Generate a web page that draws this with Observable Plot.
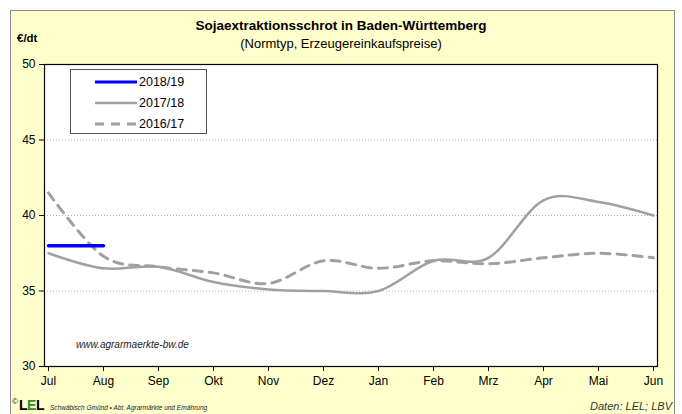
<!DOCTYPE html>
<html>
<head>
<meta charset="utf-8">
<script src="https://cdn.jsdelivr.net/npm/d3@7"></script>
<script src="https://cdn.jsdelivr.net/npm/@observablehq/plot@0.6"></script>
<style>
  html, body { margin: 0; padding: 0; background: #fff; }
  body { width: 682px; height: 414px; position: relative; overflow: hidden; font-family: "Liberation Sans", Arial, sans-serif; }
  #frame { position: absolute; left: 10px; top: 10px; width: 665px; height: 420px; background: #FFFFCC; border: 1px solid #8a8a8a; box-sizing: border-box; }
  #chart { position: absolute; left: 0; top: 0; }
  .t { position: absolute; white-space: nowrap; color: #000; line-height: 1; }
  #legend { position: absolute; left: 70px; top: 69px; width: 137px; height: 65px; box-sizing: border-box; border: 1px solid #555; background: #fff; }
  .li { position: absolute; left: 0; height: 16px; font-size: 12.5px; }
  .li svg { position: absolute; left: 24px; top: 2px; }
  .li span { position: absolute; left: 68px; top: 0; }
</style>
</head>
<body>
<div id="frame"></div>
<div id="chart"></div>
<div class="t" style="left:0;width:682px;top:19px;text-align:center;font-weight:bold;font-size:13.5px;">Sojaextraktionsschrot in Baden-Württemberg</div>
<div class="t" style="left:0;width:682px;top:37px;text-align:center;font-size:13px;">(Normtyp, Erzeugereinkaufspreise)</div>
<div class="t" style="left:17px;top:33px;font-weight:bold;font-size:11.5px;">€/dt</div>
<div id="legend">
  <div class="li" style="top:5px"><svg width="44" height="10"><line x1="0" x2="42" y1="5" y2="5" stroke="#0000FF" stroke-width="3"/></svg><span>2018/19</span></div>
  <div class="li" style="top:26px"><svg width="44" height="10"><line x1="0" x2="42" y1="5" y2="5" stroke="#A0A0A0" stroke-width="2.5"/></svg><span>2017/18</span></div>
  <div class="li" style="top:47px"><svg width="44" height="10"><line x1="0" x2="42" y1="5" y2="5" stroke="#A0A0A0" stroke-width="3" stroke-dasharray="9,7"/></svg><span>2016/17</span></div>
</div>
<div class="t" style="left:76px;top:340px;font-style:italic;font-size:10px;color:#222;">www.agrarmaerkte-bw.de</div>
<div class="t" style="left:12px;top:398px;font-size:8px;">©</div>
<div class="t" style="left:19px;top:398px;font-size:14px;font-weight:bold;letter-spacing:-0.5px;">L<span style="color:#2e8b2e">E</span>L</div>
<div class="t" style="left:50px;top:405px;font-size:6.5px;font-style:italic;color:#222;">Schwäbisch Gmünd • Abt. Agrarmärkte und Ernährung</div>
<div class="t" style="right:10px;top:401px;font-size:11px;font-style:italic;color:#333;">Daten: LEL; LBV</div>
<script>
const months = ["Jul","Aug","Sep","Okt","Nov","Dez","Jan","Feb","Mrz","Apr","Mai","Jun"];
const s2018_19 = [38.0, 38.0];
const s2017_18 = [37.5, 36.5, 36.6, 35.6, 35.1, 35.0, 35.0, 37.0, 37.2, 41.0, 40.9, 40.0];
const s2016_17 = [41.5, 37.3, 36.6, 36.2, 35.5, 37.0, 36.5, 37.0, 36.8, 37.2, 37.5, 37.2];
const yTicks = [30, 35, 40, 45, 50];
const gridValues = [35, 40, 45];

const toRows = (arr) => arr.map((v, i) => ({m: months[i], v}));

const chart = Plot.plot({
  width: 682,
  height: 414,
  marginLeft: 44,
  marginRight: 25,
  marginTop: 64,
  marginBottom: 48,
  style: {background: "transparent", fontFamily: "Liberation Sans, Arial, sans-serif", fontSize: "12px", color: "#000"},
  x: {type: "point", domain: months, padding: 0},
  y: {domain: [30, 50]},
  marks: [
    Plot.frame({fill: "white", stroke: "none"}),
    Plot.ruleY(gridValues, {stroke: "#999", strokeWidth: 0.8, strokeDasharray: "1,2"}),
    Plot.lineY(toRows(s2016_17), {x: "m", y: "v", stroke: "#A0A0A0", strokeWidth: 3, strokeDasharray: "9,7", curve: "cardinal"}),
    Plot.lineY(toRows(s2017_18), {x: "m", y: "v", stroke: "#A0A0A0", strokeWidth: 2.5, curve: "cardinal"}),
    Plot.lineY(toRows(s2018_19), {x: "m", y: "v", stroke: "#0000FF", strokeWidth: 3.5, curve: "linear"}),
    Plot.frame({stroke: "#000", strokeWidth: 1.2}),
    Plot.axisY({ticks: yTicks, tickSize: 5, tickPadding: 4, label: null, fontSize: 12}),
    Plot.axisX({tickSize: 5, tickPadding: 5, label: null, fontSize: 12})
  ]
});
document.getElementById("chart").appendChild(chart);
</script>
</body>
</html>
